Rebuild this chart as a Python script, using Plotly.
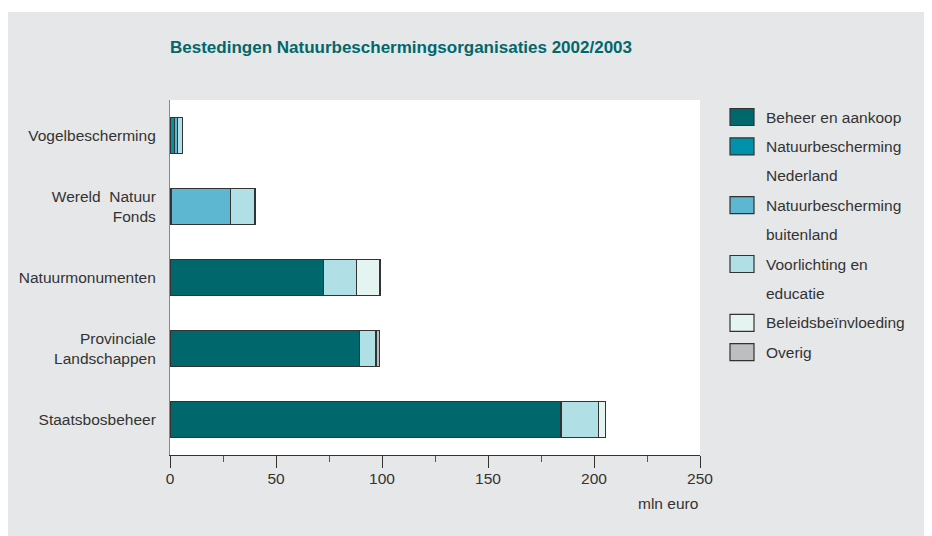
import plotly.graph_objects as go

# ---- data (mln euro) ----
orgs = ["Vogelbescherming", "Wereld  Natuur<br>Fonds", "Natuurmonumenten",
        "Provinciale<br>Landschappen", "Staatsbosbeheer"]
beheer = [None, None, 72.3, 89.2, 184.4]
nb_nederland = [2.0, 0.6, None, None, None]
nb_buitenland = [1.5, 28.0, None, None, None]
voorlichting = [2.5, 11.5, 15.7, 8.0, 17.8]
beleid = [None, None, 11.1, None, 3.1]
overig = [None, None, None, 1.5, None]

series_names = ["Beheer en aankoop", "Natuurbescherming<br>Nederland",
                "Natuurbescherming<br>buitenland", "Voorlichting en<br>educatie",
                "Beleidsbeïnvloeding", "Overig"]
series_values = [beheer, nb_nederland, nb_buitenland, voorlichting, beleid, overig]
colors = ["#00686c", "#0092aa", "#5db7d0", "#b0dfe6", "#e3f4f1", "#bcbec0"]

x_ticks = [0, 50, 100, 150, 200, 250]

# ---- layout geometry ----
# page has an 8px body margin; targets below are in screenshot pixels
OFF = 8
W, H = 932 - OFF, 536 - OFF
L, R, T, B = 170, 700, 100, 455


def px_x(p):
    return (p - L) / (R - L)


def px_y(p):
    return (B - p) / (B - T)


FONT = "Liberation Sans, Arial, sans-serif"
TXT = "#333333"
FS = 15.5

fig = go.Figure()
for name, vals, col in zip(series_names, series_values, colors):
    fig.add_trace(go.Bar(
        y=orgs, x=vals, name=name, orientation="h", width=0.5,
        marker=dict(color=col, line=dict(color="#333333", width=1.2)),
        showlegend=False,
    ))

shapes = [
    # thin white strip above the grey panel
    dict(type="rect", xref="paper", yref="paper", layer="below",
         x0=px_x(-10), x1=px_x(W + 20), y0=px_y(12), y1=px_y(-10),
         fillcolor="white", line=dict(width=0)),
]
annotations = [
    dict(text="mln euro", xref="paper", yref="paper", x=1, y=px_y(503),
         xanchor="right", yanchor="middle", showarrow=False,
         font=dict(family=FONT, size=FS, color=TXT)),
]

# manual legend (square + text), line spacing as in the original
line_h = 29.4
row = 0
for name, col in zip(series_names, colors):
    yc = 117 + row * line_h
    shapes.append(dict(type="rect", xref="paper", yref="paper",
                       x0=px_x(730), x1=px_x(754), y0=px_y(yc + 8.5), y1=px_y(yc - 8.5),
                       fillcolor=col, line=dict(color="#333333", width=1.2)))
    for i, part in enumerate(name.split("<br>")):
        annotations.append(dict(text=part, xref="paper", yref="paper",
                                x=px_x(764), y=px_y(yc + i * line_h),
                                xanchor="left", yanchor="middle", showarrow=False,
                                font=dict(family=FONT, size=FS, color=TXT)))
    row += len(name.split("<br>"))

fig.update_layout(
    width=W, height=H,
    margin=dict(l=L - OFF, r=W - (R - OFF), t=T - OFF, b=H - (B - OFF)),
    paper_bgcolor="#e6e7e8",
    plot_bgcolor="white",
    barmode="stack",
    font=dict(family=FONT, size=FS, color=TXT),
    title=dict(text="<b>Bestedingen Natuurbeschermingsorganisaties 2002/2003</b>",
               x=0, xref="paper", xanchor="left", y=1 - (47 - OFF) / H, yref="container",
               yanchor="middle", font=dict(family=FONT, size=17, color="#00686c")),
    shapes=shapes,
    annotations=annotations,
)
fig.update_xaxes(range=[0, 250], tickvals=x_ticks, showgrid=False, zeroline=False,
                 showline=True, linecolor="#333333", linewidth=1.2,
                 ticks="outside", ticklen=12, tickcolor="#333333", tickwidth=1.2,
                 ticklabelstandoff=-3,
                 minor=dict(dtick=25, ticks="outside", ticklen=6, tickcolor="#555555",
                            showgrid=False),
                 tickfont=dict(size=FS, color=TXT), fixedrange=True)
fig.update_yaxes(autorange="reversed", showgrid=False, zeroline=False,
                 showline=True, linecolor="#888888", linewidth=1.2,
                 ticks="outside", ticklen=10, tickcolor="rgba(0,0,0,0)",
                 tickfont=dict(size=FS, color=TXT), fixedrange=True)

fig.write_html("out.html")
